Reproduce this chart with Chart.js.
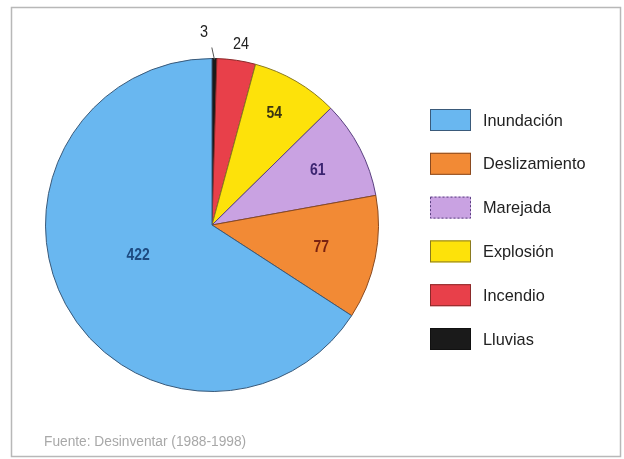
<!DOCTYPE html>
<html>
<head>
<meta charset="utf-8">
<script src="https://cdn.jsdelivr.net/npm/chart.js@4"></script>
<style>
    html, body { margin: 0; padding: 0; background: #fff; }
    #wrap { width: 624px; height: 459px; position: relative; }
</style>
</head>
<body>
<div id="wrap"><canvas id="pie-chart"></canvas></div>
<script>
// Eventos por tipo, en el orden de dibujo (en sentido horario desde arriba)
const categories = ['Lluvias', 'Incendio', 'Explosión', 'Marejada', 'Deslizamiento', 'Inundación'];
const values = [3, 24, 54, 61, 77, 422];
const source = 'Fuente: Desinventar (1988-1998)';

const sliceColors = ['#1a1a1a', '#e8404a', '#fde20a', '#c9a2e2', '#f28a35', '#69b7f0'];
const sliceBorders = ['#111111', '#8a2a2a', '#8a7a20', '#5a4080', '#8a4a20', '#3a5a7a'];
const labelColors = ['#222222', '#222222', '#3a3512', '#3b2470', '#7a2210', '#1d4a80'];

// colocación de las etiquetas: fracción del radio y desvío angular (grados)
const labelRadius = [1.16, 1.10, 0.77, 0.715, 0.67, 0.48];
const labelShift = [-3.2, 0.7, -1.3, 0, 0, 6];
const outsideLabel = [true, true, false, false, false, false];

const fontFamily = '"Liberation Sans Narrow", "Arial Narrow", "Liberation Sans", sans-serif';

// texto estrechado horizontalmente (imita una fuente condensada)
function narrowText(c, text, x, y, font, squeeze) {
    c.save();
    c.translate(x, y);
    c.scale(squeeze, 1);
    c.font = font;
    c.fillText(text, 0, 0);
    c.restore();
}

const pieDecor = {
    id: 'pieDecor',
    beforeDraw(chart) {
        const c = chart.ctx;
        c.save();
        c.fillStyle = '#ffffff';
        c.fillRect(0, 0, chart.width, chart.height);
        // marco
        c.strokeStyle = '#b8b8b8';
        c.lineWidth = 1.5;
        c.strokeRect(11.5, 7.5, 609, 449);
        c.restore();
    },
    afterDraw(chart) {
        const c = chart.ctx;
        const arcs = chart.getDatasetMeta(0).data;
        c.save();

        // valores sobre las porciones
        arcs.forEach((arc, i) => {
            const p = arc.getProps(['x', 'y', 'startAngle', 'endAngle', 'outerRadius'], true);
            const mid = (p.startAngle + p.endAngle) / 2;
            const ang = mid + labelShift[i] * Math.PI / 180;
            const r = p.outerRadius * labelRadius[i];
            const lx = p.x + Math.cos(ang) * r;
            const ly = p.y + Math.sin(ang) * r;

            if (i === 0) {
                // línea guía para la porción más pequeña
                const tip = mid - 0.9 * Math.PI / 180;
                c.strokeStyle = '#555';
                c.lineWidth = 1;
                c.beginPath();
                c.moveTo(p.x + Math.cos(mid) * (p.outerRadius - 1), p.y + Math.sin(mid) * (p.outerRadius - 1));
                c.lineTo(p.x + Math.cos(tip) * (p.outerRadius + 11), p.y + Math.sin(tip) * (p.outerRadius + 11));
                c.stroke();
            }

            c.fillStyle = labelColors[i];
            c.textAlign = 'center';
            c.textBaseline = 'middle';
            if (outsideLabel[i]) {
                narrowText(c, String(values[i]), lx, ly, '17px ' + fontFamily, 0.85);
            } else {
                narrowText(c, String(values[i]), lx, ly, 'bold 17px ' + fontFamily, 0.82);
            }
        });

        // leyenda (de mayor a menor)
        const order = categories.map((_, i) => i).reverse();
        order.forEach((idx, k) => {
            const y = 109 + k * 43.8;
            c.fillStyle = sliceColors[idx];
            c.fillRect(430, y, 41, 22);
            c.strokeStyle = sliceBorders[idx];
            c.lineWidth = 1;
            if (categories[idx] === 'Marejada') c.setLineDash([2, 2]);
            c.strokeRect(430.5, y + 0.5, 40, 21);
            c.setLineDash([]);

            c.fillStyle = '#222';
            c.textAlign = 'left';
            c.textBaseline = 'middle';
            narrowText(c, categories[idx], 483, y + 12, '17px ' + fontFamily, 0.96);
        });

        // fuente
        c.fillStyle = '#a8a8a8';
        c.textAlign = 'left';
        c.textBaseline = 'middle';
        narrowText(c, source, 44, 442, '14px ' + fontFamily, 0.98);

        c.restore();
    }
};

const ctx = document.getElementById('pie-chart').getContext('2d');

const chart = new Chart(ctx, {
    type: 'pie',
    data: {
        labels: categories,
        datasets: [{
            data: values,
            backgroundColor: sliceColors,
            borderColor: sliceBorders,
            borderWidth: 1
        }]
    },
    options: {
        responsive: true,
        maintainAspectRatio: false,
        animation: false,
        layout: {
            padding: { left: 45, right: 245, top: 58, bottom: 67 }
        },
        plugins: {
            legend: { display: false },
            tooltip: { enabled: false }
        }
    },
    plugins: [pieDecor]
});
</script>
</body>
</html>
